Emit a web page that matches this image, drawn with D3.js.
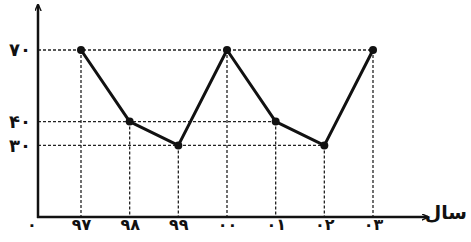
<!DOCTYPE html>
<html>
<head>
<meta charset="utf-8">
<script src="https://cdn.jsdelivr.net/npm/d3@7"></script>
<style>
  body { margin: 0; background: #fff; overflow: hidden; }
  svg { display: block; }
  .lbl { font-family: "DejaVu Sans", sans-serif; font-weight: bold; fill: #111; }
</style>
</head>
<body>
<div id="chart"></div>
<script>
// data
var years = ['۹۷', '۹۸', '۹۹', '۰۰', '۰۱', '۰۲', '۰۳'];
var values = [70, 40, 30, 70, 40, 30, 70];
var yTicks = [30, 40, 70];
var originLabel = '۰';
var xTitle = 'سال';

var width = 471, height = 242;

function fa(n) {
  return String(n).replace(/[0-9]/g, function (c) { return '۰۱۲۳۴۵۶۷۸۹'[+c]; });
}

var svg = d3.select('#chart').append('svg')
  .attr('width', width)
  .attr('height', height);

var defs = svg.append('defs');
defs.append('marker')
  .attr('id', 'arrow')
  .attr('viewBox', '0 0 10 10')
  .attr('refX', 9).attr('refY', 5)
  .attr('markerWidth', 7).attr('markerHeight', 7)
  .attr('markerUnits', 'userSpaceOnUse')
  .attr('orient', 'auto')
  .append('path')
  .attr('d', 'M0,0.5 L10,5 L0,9.5')
  .attr('fill', 'none')
  .attr('stroke', '#111')
  .attr('stroke-width', 2);

var originX = 38;
var xScale = d3.scalePoint().domain(years).range([81, 373]);
var yScale = d3.scaleLinear().domain([0, 70]).range([217, 50]);

// dashed guide lines
var pts = years.map(function (y, i) { return { year: y, v: values[i] }; });

svg.selectAll('.vguide')
  .data(pts)
  .enter().append('line')
  .attr('class', 'vguide')
  .attr('x1', function (d) { return xScale(d.year); })
  .attr('x2', function (d) { return xScale(d.year); })
  .attr('y1', function (d) { return yScale(d.v); })
  .attr('y2', yScale(0))
  .attr('stroke', '#222')
  .attr('stroke-width', 1.3)
  .attr('stroke-dasharray', '3,2');

// horizontal guides run to the furthest point with that value
svg.selectAll('.hguide')
  .data(yTicks)
  .enter().append('line')
  .attr('class', 'hguide')
  .attr('x1', originX)
  .attr('x2', function (t) {
    return d3.max(pts.filter(function (p) { return p.v === t; }), function (p) { return xScale(p.year); });
  })
  .attr('y1', function (t) { return yScale(t); })
  .attr('y2', function (t) { return yScale(t); })
  .attr('stroke', '#222')
  .attr('stroke-width', 1.3)
  .attr('stroke-dasharray', '3,2');

// axes
svg.append('line')
  .attr('x1', originX).attr('y1', yScale(0) + 1)
  .attr('x2', originX).attr('y2', yScale(89))
  .attr('stroke', '#111').attr('stroke-width', 2.5)
  .attr('marker-end', 'url(#arrow)');

svg.append('line')
  .attr('x1', originX - 1).attr('y1', yScale(0))
  .attr('x2', 428).attr('y2', yScale(0))
  .attr('stroke', '#111').attr('stroke-width', 2.5)
  .attr('marker-end', 'url(#arrow)');

var yAxis = d3.axisLeft(yScale).tickValues(yTicks).tickSize(0).tickPadding(7).tickFormat(fa);
var gy = svg.append('g').attr('transform', 'translate(' + originX + ',0)').call(yAxis);
gy.select('.domain').remove();
gy.selectAll('text').attr('class', 'lbl').style('font-size', '18px').attr('fill', '#111');

var xAxis = d3.axisBottom(xScale).tickSize(0);
var gx = svg.append('g').attr('transform', 'translate(0,' + yScale(0) + ')').call(xAxis);
gx.select('.domain').remove();
gx.selectAll('text')
  .attr('class', 'lbl')
  .attr('y', 13)
  .attr('dy', 0)
  .style('font-size', '16px')
  .attr('fill', '#111');

svg.append('text')
  .attr('class', 'lbl')
  .attr('x', 32).attr('y', yScale(0) + 13)
  .attr('text-anchor', 'middle')
  .style('font-size', '16px')
  .text(originLabel);

svg.append('text')
  .attr('class', 'lbl')
  .attr('x', 467).attr('y', 219)
  .attr('text-anchor', 'end')
  .style('font-size', '19px')
  .text(xTitle);

// the line and its points
var line = d3.line()
  .x(function (d) { return xScale(d.year); })
  .y(function (d) { return yScale(d.v); });

svg.append('path')
  .datum(pts)
  .attr('d', line)
  .attr('fill', 'none')
  .attr('stroke', '#111')
  .attr('stroke-width', 3)
  .attr('stroke-linejoin', 'round');

svg.selectAll('.dot')
  .data(pts)
  .enter().append('circle')
  .attr('class', 'dot')
  .attr('cx', function (d) { return xScale(d.year); })
  .attr('cy', function (d) { return yScale(d.v); })
  .attr('r', 4)
  .attr('fill', '#111');
</script>
</body>
</html>
